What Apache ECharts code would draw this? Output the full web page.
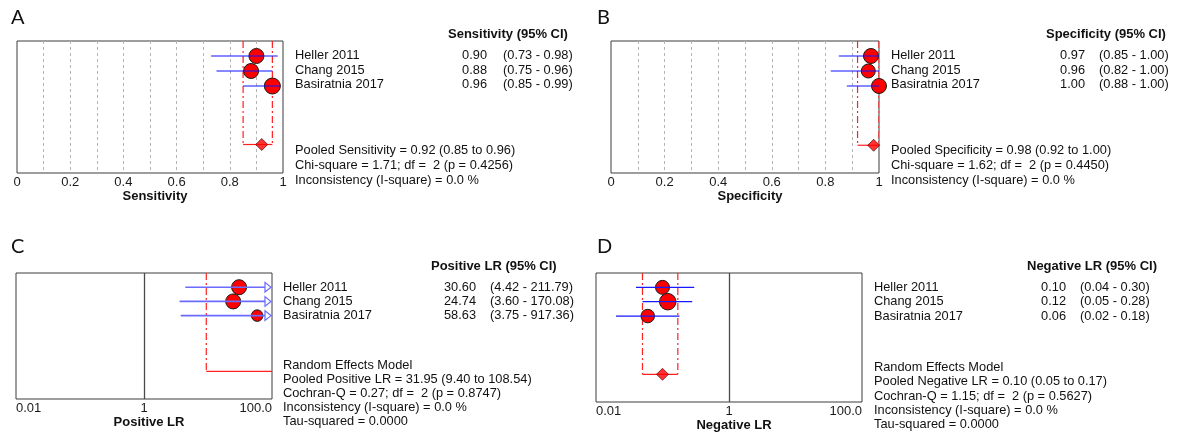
<!DOCTYPE html>
<html><head><meta charset="utf-8">
<script src="https://cdn.jsdelivr.net/npm/echarts@6/dist/echarts.min.js"></script>
<style>html,body{margin:0;padding:0;background:#fff}#c{width:1182px;height:437px}</style>
</head><body><div id="c"></div>
<script>
// ---------------- DATA ----------------
const studies = ['Heller 2011', 'Chang 2015', 'Basiratnia 2017'];

const sensEst = [0.90, 0.88, 0.96];
const sensLo  = [0.73, 0.75, 0.85];
const sensHi  = [0.98, 0.96, 0.99];
const sensPooled = [0.92, 0.85, 0.96];        // estimate, lower, upper
const sensHet = [1.71, 2, 0.4256, 0.0];        // chi-square, df, p, I-square

const specEst = [0.97, 0.96, 1.00];
const specLo  = [0.85, 0.82, 0.88];
const specHi  = [1.00, 1.00, 1.00];
const specPooled = [0.98, 0.92, 1.00];
const specHet = [1.62, 2, 0.4450, 0.0];

const plrEst = [30.60, 24.74, 58.63];
const plrLo  = [4.42, 3.60, 3.75];
const plrHi  = [211.79, 170.08, 917.36];
const plrPooled = [31.95, 9.40, 108.54];
const plrHet = [0.27, 2, 0.8747, 0.0, 0.0000]; // Cochran-Q, df, p, I-square, tau-squared

const nlrEst = [0.10, 0.12, 0.06];
const nlrLo  = [0.04, 0.05, 0.02];
const nlrHi  = [0.30, 0.28, 0.18];
const nlrPooled = [0.10, 0.05, 0.17];
const nlrHet = [1.15, 2, 0.5627, 0.0, 0.0000];

const propTickLabels = ['0', '0.2', '0.4', '0.6', '0.8', '1'];
const lrTickLabels = ['0.01', '1', '100.0'];

// ---------------- LAYOUT / STYLE ----------------
const FONT = '"Liberation Sans", Arial, sans-serif';
const TXT = 12.8;
const panels = [
  { letter: 'A', letterPos: [11, 18], kind: 'prop', axisName: 'Sensitivity',
    est: sensEst, lo: sensLo, hi: sensHi, pooled: sensPooled,
    header: 'Sensitivity (95% CI)',
    stats: [
      'Pooled Sensitivity = ' + sensPooled[0].toFixed(2) + ' (' + sensPooled[1].toFixed(2) + ' to ' + sensPooled[2].toFixed(2) + ')',
      'Chi-square = ' + sensHet[0].toFixed(2) + '; df =  ' + sensHet[1] + ' (p = ' + sensHet[2].toFixed(4) + ')',
      'Inconsistency (I-square) = ' + sensHet[3].toFixed(1) + ' %'],
    grid: { left: 17, top: 41, width: 266, height: 132 }, yMax: 8.8, pooledRow: 6.9,
    sizes: [15, 15, 16], diamond: true, ciColor: '#1010ff', ciWidth: 1.2,
    labelMargin: 3, nameGap: 15,
    tx: { headerX: 448, headerY: 34, nameX: 295, valX: 487, ciX: 503, rowY0: 55.5, rowDy: 14.7, statsY0: 150.7, statsDy: 14.7 } },
  { letter: 'B', letterPos: [597, 18], kind: 'prop', axisName: 'Specificity',
    est: specEst, lo: specLo, hi: specHi, pooled: specPooled,
    header: 'Specificity (95% CI)',
    stats: [
      'Pooled Specificity = ' + specPooled[0].toFixed(2) + ' (' + specPooled[1].toFixed(2) + ' to ' + specPooled[2].toFixed(2) + ')',
      'Chi-square = ' + specHet[0].toFixed(2) + '; df =  ' + specHet[1] + ' (p = ' + specHet[2].toFixed(4) + ')',
      'Inconsistency (I-square) = ' + specHet[3].toFixed(1) + ' %'],
    grid: { left: 611, top: 41, width: 268, height: 132 }, yMax: 8.8, pooledRow: 6.95,
    sizes: [15, 14, 15], diamond: true, ciColor: '#1010ff', ciWidth: 1.2,
    labelMargin: 3, nameGap: 15,
    tx: { headerX: 1046, headerY: 34, nameX: 891, valX: 1085, ciX: 1099, rowY0: 55.5, rowDy: 14.7, statsY0: 150.7, statsDy: 14.8 } },
  { letter: 'C', letterPos: [11, 247], kind: 'lr', axisName: 'Positive LR',
    est: plrEst, lo: plrLo, hi: plrHi, pooled: plrPooled,
    header: 'Positive LR (95% CI)',
    stats: [
      'Random Effects Model',
      'Pooled Positive LR = ' + plrPooled[0].toFixed(2) + ' (' + plrPooled[1].toFixed(2) + ' to ' + plrPooled[2].toFixed(2) + ')',
      'Cochran-Q = ' + plrHet[0].toFixed(2) + '; df =  ' + plrHet[1] + ' (p = ' + plrHet[2].toFixed(4) + ')',
      'Inconsistency (I-square) = ' + plrHet[3].toFixed(1) + ' %',
      'Tau-squared = ' + plrHet[4].toFixed(4)],
    grid: { left: 16, top: 273, width: 256, height: 126 }, yMax: 8.87, pooledRow: 6.92,
    sizes: [15, 15, 11.5], diamond: false, ciColor: '#6a6aff', ciWidth: 1.6,
    labelMargin: 3, nameGap: 16,
    tx: { headerX: 431, headerY: 266, nameX: 283, valX: 476, ciX: 490, rowY0: 287.5, rowDy: 14.2, statsY0: 365, statsDy: 14.2 } },
  { letter: 'D', letterPos: [597, 247], kind: 'lr', axisName: 'Negative LR',
    est: nlrEst, lo: nlrLo, hi: nlrHi, pooled: nlrPooled,
    header: 'Negative LR (95% CI)',
    stats: [
      'Random Effects Model',
      'Pooled Negative LR = ' + nlrPooled[0].toFixed(2) + ' (' + nlrPooled[1].toFixed(2) + ' to ' + nlrPooled[2].toFixed(2) + ')',
      'Cochran-Q = ' + nlrHet[0].toFixed(2) + '; df =  ' + nlrHet[1] + ' (p = ' + nlrHet[2].toFixed(4) + ')',
      'Inconsistency (I-square) = ' + nlrHet[3].toFixed(1) + ' %',
      'Tau-squared = ' + nlrHet[4].toFixed(4)],
    grid: { left: 596, top: 273, width: 266, height: 129 }, yMax: 8.99, pooledRow: 7.06,
    sizes: [14, 16.5, 13.5], diamond: true, ciColor: '#1818ff', ciWidth: 1.3,
    labelMargin: 3, nameGap: 16,
    tx: { headerX: 1027, headerY: 266, nameX: 874, valX: 1066, ciX: 1080, rowY0: 287.3, rowDy: 14.4, statsY0: 367.3, statsDy: 14.4 } }
];

// ---------------- BUILD ----------------
const grids = [], xAxes = [], yAxes = [], series = [], graphics = [];

panels.forEach((p, gi) => {
  const isLog = p.kind === 'lr';
  const xMin = isLog ? 0.01 : 0, xMax = isLog ? 100 : 1;
  grids.push(Object.assign({ show: true, borderColor: '#3c3c3c', borderWidth: 1, backgroundColor: 'transparent', containLabel: false }, p.grid));
  const xa = {
    gridIndex: gi, min: xMin, max: xMax,
    name: p.axisName, nameLocation: 'middle', nameGap: p.nameGap,
    nameTextStyle: { fontFamily: FONT, fontSize: 13, fontWeight: 'bold', color: '#111', padding: [0, 0, 0, 10] },
    axisLine: { show: false }, axisTick: { show: false },
    axisLabel: { fontFamily: FONT, fontSize: 13, color: '#1a1a1a', margin: p.labelMargin, showMinLabel: true, showMaxLabel: true, hideOverlap: false }
  };
  if (isLog) {
    xa.type = 'log'; xa.logBase = 10;
    xa.splitLine = { show: false };
    xa.axisLabel.alignMinLabel = 'left';
    xa.axisLabel.alignMaxLabel = 'right';
    xa.axisLabel.formatter = v => {
      const e = Math.round(Math.log10(v));
      return e === -2 ? lrTickLabels[0] : e === 0 ? lrTickLabels[1] : e === 2 ? lrTickLabels[2] : '';
    };
  } else {
    xa.type = 'value'; xa.interval = 0.1;
    xa.splitLine = { show: true, showMinLine: false, showMaxLine: false, lineStyle: { type: [3, 3], color: '#b4b4b4', width: 1 } };
    xa.axisLabel.formatter = v => {
      const k = Math.round(v * 10);
      return k % 2 === 0 ? propTickLabels[k / 2] : '';
    };
  }
  xAxes.push(xa);
  yAxes.push({ gridIndex: gi, type: 'value', inverse: true, min: 0, max: p.yMax, show: false });

  // reference line at LR = 1
  if (isLog) {
    series.push({ type: 'line', xAxisIndex: gi, yAxisIndex: gi, data: [], silent: true, z: 1,
      markLine: { silent: true, symbol: ['none', 'none'], label: { show: false },
        lineStyle: { color: '#4a4a4a', width: 1.3, type: 'solid' }, data: [{ xAxis: 1 }] } });
  }

  // pooled bracket (dash-dot verticals + solid horizontal)
  series.push({ type: 'custom', xAxisIndex: gi, yAxisIndex: gi, clip: true, z: 2, silent: true,
    data: [[p.pooled[1], p.pooled[2], p.pooledRow]],
    renderItem(params, api) {
      const lo = api.value(0), hi = api.value(1), row = api.value(2);
      const topL = api.coord([lo, 0]), botL = api.coord([lo, row]);
      const topH = api.coord([hi, 0]), botH = api.coord([hi, row]);
      const dash = { stroke: '#ff2020', lineWidth: 1.2, lineDash: [7, 3, 2, 3] };
      const solid = { stroke: '#ff2020', lineWidth: 1.2 };
      return { type: 'group', children: [
        { type: 'line', shape: { x1: topL[0], y1: topL[1], x2: botL[0], y2: botL[1] }, style: dash },
        { type: 'line', shape: { x1: topH[0], y1: topH[1], x2: botH[0], y2: botH[1] }, style: dash },
        { type: 'line', shape: { x1: botL[0], y1: botL[1], x2: botH[0], y2: botH[1] }, style: solid }
      ] };
    } });

  // study points
  series.push({ type: 'scatter', xAxisIndex: gi, yAxisIndex: gi, z: 3, silent: true,
    data: p.est.map((e, i) => ({ value: [e, i + 1], symbolSize: p.sizes[i] })),
    symbol: 'circle',
    itemStyle: { color: '#ff0000', borderColor: '#1a1a1a', borderWidth: 1, opacity: 1 } });

  // confidence intervals (drawn over points), truncated ones get an open arrow
  series.push({ type: 'custom', xAxisIndex: gi, yAxisIndex: gi, clip: true, z: 4, silent: true,
    data: p.est.map((e, i) => [p.lo[i], p.hi[i], i + 1]),
    renderItem(params, api) {
      const lo = api.value(0), hi = api.value(1), row = api.value(2);
      const trunc = hi > xMax;
      const a = api.coord([Math.max(lo, xMin), row]);
      const b = api.coord([trunc ? xMax : hi, row]);
      const children = [];
      const style = { stroke: p.ciColor, lineWidth: p.ciWidth };
      if (trunc) {
        const tip = b[0] - 1, w = 6, h = 4.8;
        children.push({ type: 'line', shape: { x1: a[0], y1: a[1], x2: tip - w, y2: b[1] }, style });
        children.push({ type: 'polygon', shape: { points: [[tip - w, b[1] - h], [tip, b[1]], [tip - w, b[1] + h]] },
          style: { fill: '#ffffff', stroke: p.ciColor, lineWidth: 1.2 } });
      } else {
        children.push({ type: 'line', shape: { x1: a[0], y1: a[1], x2: b[0], y2: b[1] }, style });
      }
      return { type: 'group', children };
    } });

  // pooled diamond
  if (p.diamond) {
    series.push({ type: 'scatter', xAxisIndex: gi, yAxisIndex: gi, z: 5, silent: true,
      data: [[p.pooled[0], p.pooledRow]], symbol: 'diamond', symbolSize: [12, 12],
      itemStyle: { color: '#ff0000', borderColor: '#3a0000', borderWidth: 0.8 } });
  }

  // texts
  const t = p.tx;
  const txt = (text, x, y, align, bold, size, family) => ({
    type: 'text', x, y, silent: true,
    style: { text, fill: '#111', align, verticalAlign: 'middle',
      font: (bold ? 'bold ' : '') + (size || TXT) + 'px ' + (family || FONT) } });
  graphics.push(txt(p.letter, p.letterPos[0], p.letterPos[1], 'left', false, 20, 'Lato, "Open Sans", sans-serif'));
  graphics.push(txt(p.header, t.headerX, t.headerY, 'left', true, 13));
  studies.forEach((s, i) => {
    const y = t.rowY0 + i * t.rowDy;
    graphics.push(txt(s, t.nameX, y, 'left'));
    graphics.push(txt(p.est[i].toFixed(2), t.valX, y, 'right'));
    graphics.push(txt('(' + p.lo[i].toFixed(2) + ' - ' + p.hi[i].toFixed(2) + ')', t.ciX, y, 'left'));
  });
  p.stats.forEach((s, i) => graphics.push(txt(s, t.nameX, t.statsY0 + i * t.statsDy, 'left')));
});

const chart = echarts.init(document.getElementById('c'), null, { renderer: 'canvas' });
chart.setOption({
  animation: false,
  backgroundColor: '#ffffff',
  grid: grids, xAxis: xAxes, yAxis: yAxes, series,
  graphic: { elements: graphics }
});
</script>
</body></html>
